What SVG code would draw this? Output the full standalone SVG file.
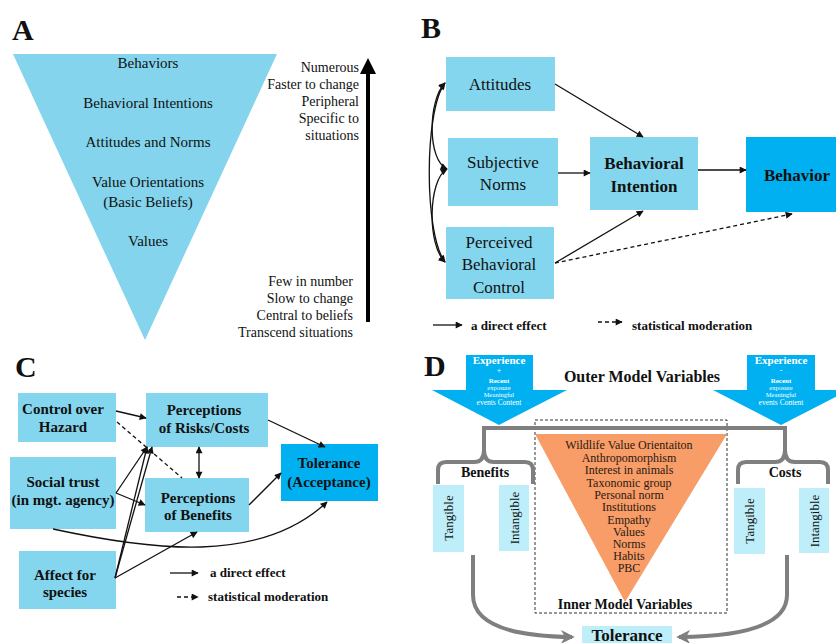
<svg xmlns="http://www.w3.org/2000/svg" width="836" height="643" viewBox="0 0 836 643">
<style>
text{font-family:'Liberation Serif',serif}
.t{fill:#111}
.b{font-weight:bold}
.box{fill:#84D6EE}
.dark{fill:#00B0F0}
.light{fill:#BDEEF9}
.ln{stroke:#111;stroke-width:1.3;fill:none}
.dash{stroke-dasharray:4 3}
.gray{stroke:#7F7F7F;stroke-width:4;fill:none}
.w{fill:#fff}
</style>
<defs>
<marker id="ah" viewBox="0 0 10 10" refX="9" refY="5" markerWidth="8" markerHeight="7" markerUnits="userSpaceOnUse" orient="auto-start-reverse"><path d="M0,0 L10,5 L0,10 z" fill="#111"/></marker>
<marker id="ga" viewBox="0 0 10 10" refX="8" refY="5" markerWidth="14" markerHeight="14" markerUnits="userSpaceOnUse" orient="auto"><path d="M0,0 L10,5 L0,10 L3,5 z" fill="#7F7F7F"/></marker>
</defs>

<g id="panelA">
<text class="t b" x="12" y="40" font-size="30">A</text>
<g id="A-triangle">
<polygon points="13,54 277,54 145,340" fill="#83D4EC"/>
<g class="t" font-size="15" text-anchor="middle">
<text x="148" y="68">Behaviors</text>
<text x="148" y="108">Behavioral  Intentions</text>
<text x="148" y="147">Attitudes and Norms</text>
<text x="148" y="187">Value Orientations</text>
<text x="148" y="207">(Basic Beliefs)</text>
<text x="148" y="246">Values</text>
</g>
</g>
<g id="A-scale" class="t" font-size="14" text-anchor="end">
<text x="359" y="72">Numerous</text>
<text x="359" y="89">Faster to change</text>
<text x="359" y="106">Peripheral</text>
<text x="359" y="123">Specific to</text>
<text x="359" y="140">situations</text>
<text x="353" y="286">Few in number</text>
<text x="353" y="303">Slow to change</text>
<text x="353" y="320">Central to beliefs</text>
<text x="353" y="337">Transcend situations</text>
</g>
<g id="A-arrow">
<line x1="368" y1="322" x2="368" y2="70" stroke="#000" stroke-width="4"/>
<polygon points="360,74 376,74 368,58" fill="#000"/>
</g>
</g>

<g id="panelB">
<text class="t b" x="421" y="38" font-size="30">B</text>
<g id="B-attitudes"><rect class="box" x="446" y="57" width="109" height="54"/><text class="t" x="500" y="90" font-size="17" text-anchor="middle">Attitudes</text></g>
<g id="B-norms"><rect class="box" x="448" y="138" width="110" height="68"/><text class="t" x="503" y="168" font-size="17" text-anchor="middle">Subjective</text><text class="t" x="503" y="190" font-size="17" text-anchor="middle">Norms</text></g>
<g id="B-pbc"><rect class="box" x="446" y="227" width="108" height="72"/><text class="t" x="499" y="248" font-size="17" text-anchor="middle">Perceived</text><text class="t" x="499" y="270" font-size="17" text-anchor="middle">Behavioral</text><text class="t" x="499" y="293" font-size="17" text-anchor="middle">Control</text></g>
<g id="B-intention"><rect class="box" x="590" y="137" width="108" height="73"/><text class="t b" x="644" y="169" font-size="17" text-anchor="middle">Behavioral</text><text class="t b" x="644" y="192" font-size="17" text-anchor="middle">Intention</text></g>
<g id="B-behavior"><rect class="dark" x="746" y="137" width="95" height="75"/><text class="t b" x="797" y="181" font-size="17" text-anchor="middle">Behavior</text></g>
<g id="B-connectors">
<line class="ln" x1="555" y1="84" x2="643" y2="137" marker-end="url(#ah)"/>
<line class="ln" x1="558" y1="173" x2="590" y2="173" stroke-width="2.5" marker-end="url(#ah)"/>
<line class="ln" x1="555" y1="263" x2="643" y2="211" marker-end="url(#ah)"/>
<line class="ln" x1="698" y1="170" x2="746" y2="170" stroke-width="3" marker-end="url(#ah)"/>
<line class="ln dash" x1="555" y1="263" x2="792" y2="214" marker-end="url(#ah)"/>
<path class="ln" stroke-width="1.8" d="M445,83 C424,110 424,235 445,262" marker-start="url(#ah)" marker-end="url(#ah)"/>
<path class="ln" stroke-width="1.8" d="M445,83 C428,100 427,160 447,169" marker-start="url(#ah)" marker-end="url(#ah)"/>
<path class="ln" stroke-width="1.8" d="M447,169 C428,180 427,245 445,262" marker-start="url(#ah)" marker-end="url(#ah)"/>
</g>
<g id="B-legend">
<line class="ln" x1="433" y1="325" x2="462" y2="325" marker-end="url(#ah)"/>
<text class="t b" x="471" y="330" font-size="13">a direct effect</text>
<line class="ln dash" x1="598" y1="322" x2="622" y2="322" marker-end="url(#ah)"/>
<text class="t b" x="632" y="330" font-size="13">statistical moderation</text>
</g>
</g>

<g id="panelC">
<text class="t b" x="15" y="377" font-size="30">C</text>
<g id="C-control"><rect class="box" x="18" y="393" width="98" height="49"/><text class="t b" x="63" y="414" font-size="15" text-anchor="middle">Control over</text><text class="t b" x="63" y="432" font-size="15" text-anchor="middle">Hazard</text></g>
<g id="C-trust"><rect class="box" x="10" y="457" width="106" height="72"/><text class="t b" x="63" y="487" font-size="15" text-anchor="middle">Social trust</text><text class="t b" x="63" y="505" font-size="15" text-anchor="middle">(in mgt. agency)</text></g>
<g id="C-affect"><rect class="box" x="19" y="551" width="97" height="58"/><text class="t b" x="65" y="580" font-size="15" text-anchor="middle">Affect for</text><text class="t b" x="65" y="597" font-size="15" text-anchor="middle">species</text></g>
<g id="C-risks"><rect class="box" x="146" y="393" width="122" height="54"/><text class="t b" x="204" y="415" font-size="15" text-anchor="middle">Perceptions</text><text class="t b" x="204" y="433" font-size="15" text-anchor="middle">of Risks/Costs</text></g>
<g id="C-benefits"><rect class="box" x="145" y="478" width="104" height="54"/><text class="t b" x="198" y="503" font-size="15" text-anchor="middle">Perceptions</text><text class="t b" x="198" y="520" font-size="15" text-anchor="middle">of Benefits</text></g>
<g id="C-tolerance"><rect class="dark" x="281" y="444" width="97" height="57"/><text class="t b" x="329" y="468" font-size="15" text-anchor="middle">Tolerance</text><text class="t b" x="329" y="487" font-size="15" text-anchor="middle">(Acceptance)</text></g>
<g id="C-connectors">
<line class="ln" x1="116" y1="411" x2="146" y2="418" marker-end="url(#ah)"/>
<line class="ln dash" x1="117" y1="422" x2="182" y2="478"/>
<line class="ln" x1="116" y1="493" x2="147" y2="447" marker-end="url(#ah)"/>
<line class="ln" x1="116" y1="493" x2="145" y2="505" marker-end="url(#ah)"/>
<line class="ln" x1="115" y1="578" x2="147" y2="447" marker-end="url(#ah)"/>
<line class="ln" x1="115" y1="578" x2="152" y2="447" marker-end="url(#ah)"/>
<line class="ln" x1="115" y1="578" x2="197" y2="532" marker-end="url(#ah)"/>
<line class="ln" x1="199" y1="447" x2="199" y2="478" marker-start="url(#ah)" marker-end="url(#ah)"/>
<line class="ln" x1="268" y1="420" x2="325" y2="447" marker-end="url(#ah)"/>
<line class="ln" x1="249" y1="505" x2="281" y2="473" marker-end="url(#ah)"/>
<path class="ln" d="M53,529 C150,550 260,565 327,502" marker-end="url(#ah)"/>
</g>
<g id="C-legend">
<line class="ln" x1="170" y1="573" x2="198" y2="573" marker-end="url(#ah)"/>
<text class="t b" x="210" y="577" font-size="13">a direct effect</text>
<line class="ln dash" x1="177" y1="597" x2="198" y2="597" marker-end="url(#ah)"/>
<text class="t b" x="208" y="601" font-size="13">statistical moderation</text>
</g>
</g>

<g id="panelD">
<text class="t b" x="424" y="376" font-size="30">D</text>
<g id="D-exp-left">
<polygon points="466,355 533,355 533,390 567,390 499,425 432,390 466,390" fill="#00B0F0"/>
<g text-anchor="middle">
<text class="w" x="499" y="364" font-size="11" font-weight="bold">Experience</text>
<text class="w" x="499" y="373" font-size="8">+</text>
<text class="w" x="499" y="383" font-size="7" font-weight="bold">Recent</text>
<text class="w" x="499" y="390" font-size="6.5">exposure</text>
<text class="w" x="499" y="397" font-size="6.5">Meaningful</text>
<text class="w" x="499" y="404.5" font-size="7.5">events Content</text>
</g>
</g>
<g id="D-exp-right">
<polygon points="747,355 815,355 815,390 849,390 781,425 713,390 747,390" fill="#00B0F0"/>
<g text-anchor="middle">
<text class="w" x="781" y="364" font-size="11" font-weight="bold">Experience</text>
<text class="w" x="781" y="373" font-size="8">-</text>
<text class="w" x="781" y="383" font-size="7" font-weight="bold">Recent</text>
<text class="w" x="781" y="390" font-size="6.5">exposure</text>
<text class="w" x="781" y="397" font-size="6.5">Meaningful</text>
<text class="w" x="781" y="404.5" font-size="7.5">events Content</text>
</g>
</g>
<text class="t b" x="642" y="382" font-size="16" text-anchor="middle">Outer Model Variables</text>
<g id="D-inner">
<rect x="535" y="420" width="192" height="193" fill="none" stroke="#333" stroke-width="1" stroke-dasharray="3 2"/>
<polygon points="535,434 727,434 625,602" fill="#F89C68"/>
<g font-size="12" text-anchor="middle" fill="#2a1a10">
<text x="629" y="449">Wildlife Value Orientaiton</text>
<text x="629" y="461.5">Anthropomorphism</text>
<text x="629" y="474">Interest in animals</text>
<text x="629" y="486.5">Taxonomic group</text>
<text x="629" y="499">Personal norm</text>
<text x="629" y="511">Institutions</text>
<text x="629" y="523.5">Empathy</text>
<text x="629" y="536">Values</text>
<text x="629" y="548">Norms</text>
<text x="629" y="560">Habits</text>
<text x="629" y="572">PBC</text>
</g>
<text class="t b" x="625" y="609" font-size="14" text-anchor="middle">Inner Model Variables</text>
</g>
<g id="D-brackets">
<path class="gray" d="M438,484 V470 Q438,462 446,462 H474 Q484,462 484,450 V428 H785 V450 Q785,462 795,462 H820 Q828,462 828,470 V484"/>
<path class="gray" d="M484,450 Q484,462 494,462 H525 Q533,462 533,470 V484"/>
<path class="gray" d="M785,450 Q785,462 775,462 H746 Q738,462 738,470 V484"/>
<text class="t b" x="485" y="477" font-size="14" text-anchor="middle">Benefits</text>
<text class="t b" x="785" y="477" font-size="14" text-anchor="middle">Costs</text>
</g>
<g id="D-ben-tangible"><rect class="light" x="433" y="485" width="31" height="67"/><text class="t" transform="translate(453,518) rotate(-90)" font-size="13" text-anchor="middle">Tangible</text></g>
<g id="D-ben-intangible"><rect class="light" x="499" y="485" width="30" height="66"/><text class="t" transform="translate(519,518) rotate(-90)" font-size="13" text-anchor="middle">Intangible</text></g>
<g id="D-cost-tangible"><rect class="light" x="734" y="488" width="31" height="66"/><text class="t" transform="translate(754,521) rotate(-90)" font-size="13" text-anchor="middle">Tangible</text></g>
<g id="D-cost-intangible"><rect class="light" x="799" y="488" width="30" height="65"/><text class="t" transform="translate(819,521) rotate(-90)" font-size="13" text-anchor="middle">Intangible</text></g>
<g id="D-connectors">
<path class="gray" d="M473,555 V595 Q473,636 572,637" marker-end="url(#ga)"/>
<path class="gray" d="M787,555 V595 Q787,636 679,637" marker-end="url(#ga)"/>
</g>
<g id="D-tolerance"><rect class="light" x="582" y="626" width="90" height="20"/><text class="t b" x="627" y="641" font-size="17" text-anchor="middle">Tolerance</text></g>
</g>
</svg>
